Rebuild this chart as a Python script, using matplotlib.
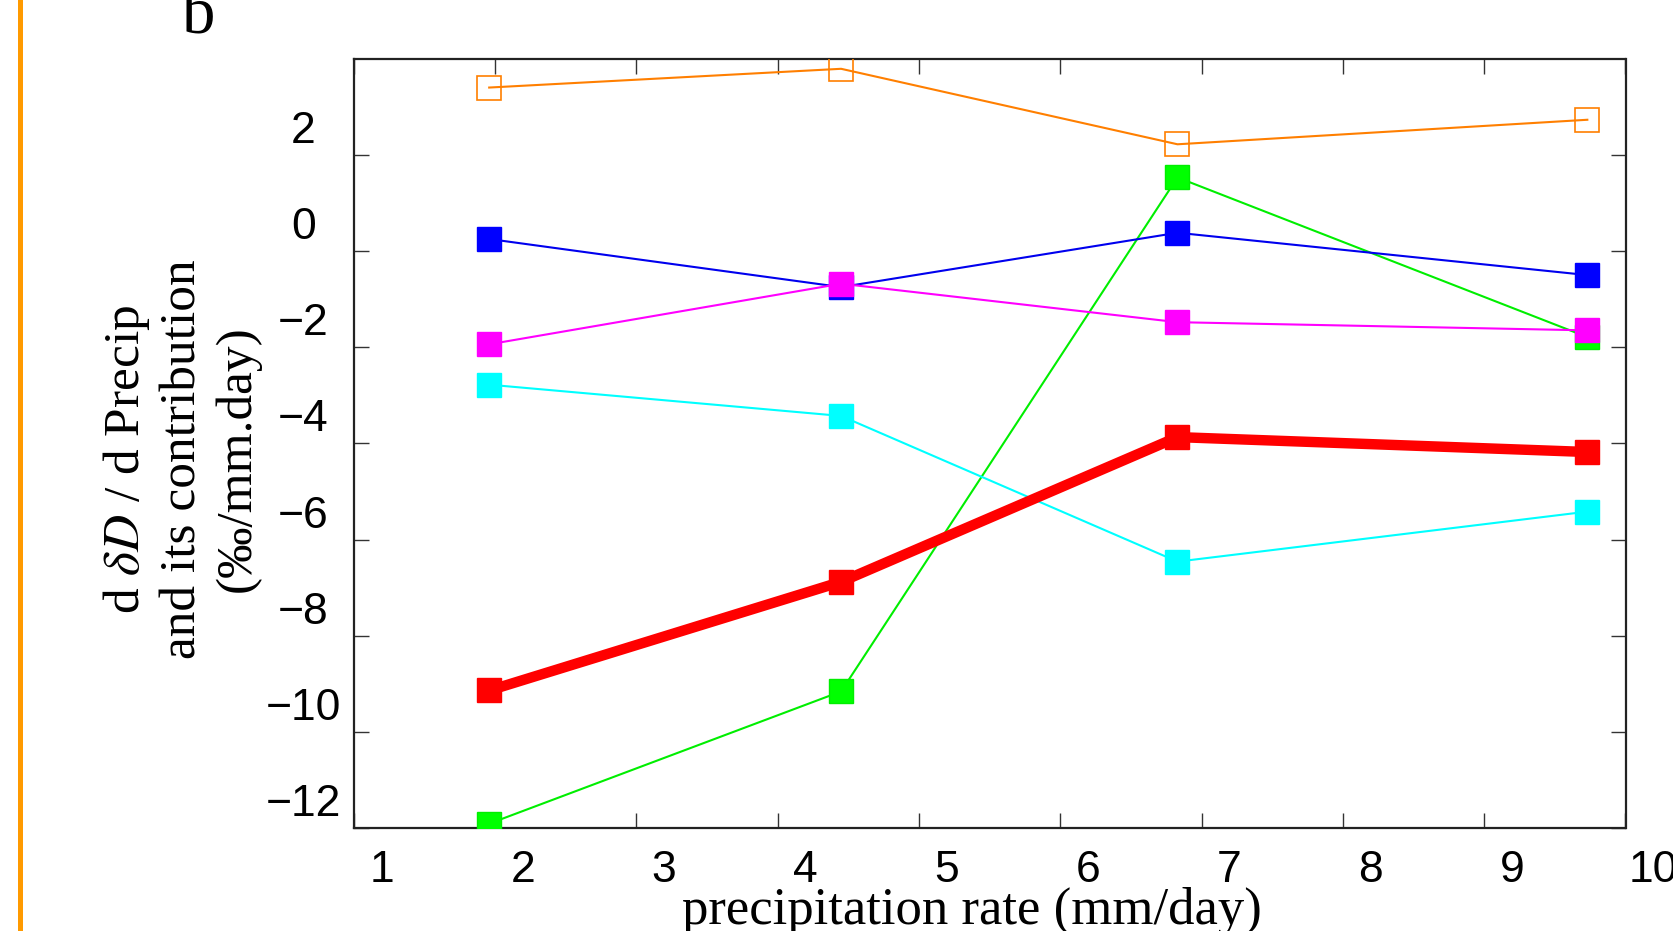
import matplotlib
matplotlib.use("Agg")
import matplotlib.pyplot as plt
import matplotlib.transforms as mtransforms
from matplotlib.patches import Rectangle

# ---- data ----
precip = [1.96, 4.45, 6.83, 9.73]
total = [-9.14, -6.88, -3.87, -4.18]          # red, thick
orange_vals = [3.40, 3.79, 2.22, 2.73]        # open squares
green_vals = [-11.91, -9.16, 1.53, -1.79]
blue_vals = [0.25, -0.75, 0.38, -0.50]
magenta_vals = [-1.94, -0.68, -1.48, -1.65]
cyan_vals = [-2.78, -3.43, -6.46, -5.42]

xtick_vals = [1, 2, 3, 4, 5, 6, 7, 8, 9, 10]
xtick_labels = ["1", "2", "3", "4", "5", "6", "7", "8", "9", "10"]
ytick_vals = [-12, -10, -8, -6, -4, -2, 0, 2]
ytick_labels = ["\u221212", "\u221210", "\u22128", "\u22126", "\u22124", "\u22122", "0", "2"]

plt.rcParams["mathtext.fontset"] = "stix"

W, H = 1673, 931
fig = plt.figure(figsize=(W / 100, H / 100), dpi=100)
ax = fig.add_axes([353.5 / W, 1 - 828 / H, (1625.5 - 353.5) / W, (828 - 58.7) / H])

ms = 17
ax.plot(precip, green_vals, color="#00ee00", lw=1.5, marker="s", ms=ms, mec="#00ee00", mfc="#00ff00", zorder=3)
ax.plot(precip, blue_vals, color="#0000ee", lw=1.5, marker="s", ms=ms, mec="#0000ff", mfc="#0000ff", zorder=3)
ax.plot(precip, magenta_vals, color="#ff00ff", lw=1.5, marker="s", ms=ms, mec="#ff00ff", mfc="#ff00ff", zorder=3)
ax.plot(precip, cyan_vals, color="#00ffff", lw=1.5, marker="s", ms=ms, mec="#00ffff", mfc="#00ffff", zorder=3)
ax.plot(precip, total, color="#ff0000", lw=7.5, marker="s", ms=ms, mec="#ff0000", mfc="#ff0000", zorder=4)
ax.plot(precip, orange_vals, color="#ff7f00", lw=1.5, marker="s", ms=ms, mec="#ff7f00", mfc="none", mew=1.2, zorder=5)

ax.set_xlim(1, 10)
ax.set_ylim(-12, 4)
ax.set_xticks(xtick_vals)
ax.set_xticklabels(xtick_labels)
ax.set_yticks(ytick_vals)
ax.set_yticklabels(ytick_labels)

for s in ax.spines.values():
    s.set_linewidth(1.6)
    s.set_color("#222222")

ax.tick_params(axis="both", which="major", direction="in", length=10.5, width=1.0,
               color="#333333", top=True, right=True, labelsize=32)
ax.tick_params(axis="x", pad=16)
ax.tick_params(axis="y", pad=36)

for lab in ax.get_xticklabels() + ax.get_yticklabels():
    lab.set_fontfamily("Liberation Sans")

# labels are drawn offset from their tick marks, as in the original figure
xoff = mtransforms.ScaledTranslation(0.28, 0.0, fig.dpi_scale_trans)
yoff = mtransforms.ScaledTranslation(0.0, 0.28, fig.dpi_scale_trans)
for t in ax.xaxis.get_major_ticks():
    t.label1.set_transform(t.label1.get_transform() + xoff)
for t in ax.yaxis.get_major_ticks():
    t.label1.set_transform(t.label1.get_transform() + yoff)
    t.label1.set_horizontalalignment("center")

# axis titles
fig.text(971.5 / W, 1 - 924 / H, "precipitation rate (mm/day)", ha="center", va="baseline",
         fontsize=38, family="Liberation Serif")
fig.text(181 / W, 1 - 459 / H,
         "d $\\delta D$ / d Precip\nand its contribution\n(\u2030/mm.day)",
         rotation=90, ha="center", va="center", fontsize=37, family="Liberation Serif",
         linespacing=1.22, multialignment="center")

# panel letter
fig.text(199 / W, 1 - 34 / H, "b", ha="center", va="baseline", fontsize=48, family="Liberation Serif")

# orange side bar
fig.patches.append(Rectangle((17.5 / W, 0), 5.5 / W, 1, transform=fig.transFigure,
                             facecolor="#ff9a00", edgecolor="none"))

fig.savefig("out.png", dpi=100)
